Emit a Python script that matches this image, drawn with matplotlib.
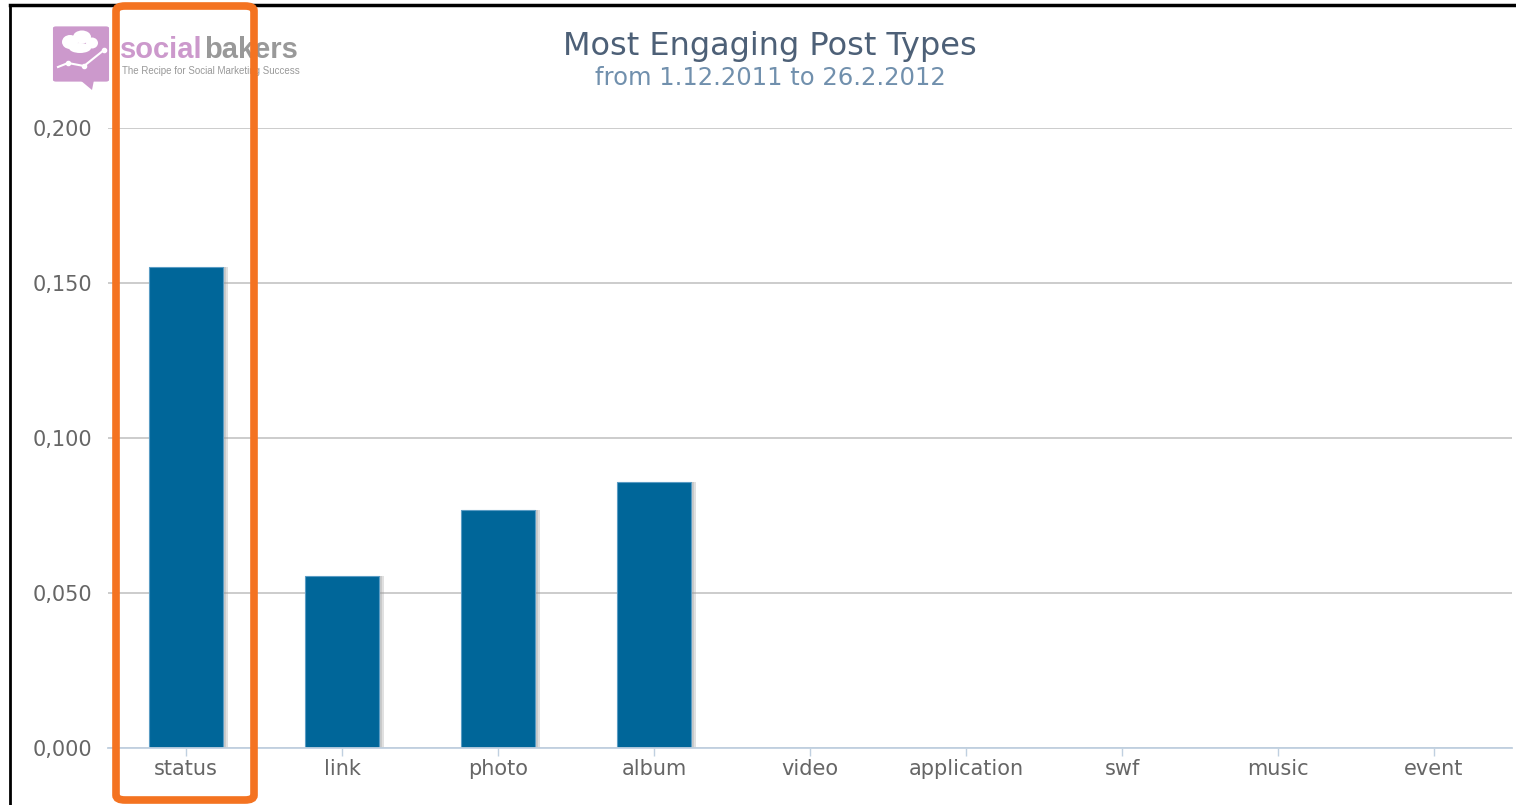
import matplotlib.pyplot as plt
from matplotlib.patches import FancyBboxPatch, Ellipse, Polygon
from matplotlib.lines import Line2D

# engagement per post type
post_types = ['status', 'link', 'photo', 'album', 'video', 'application', 'swf', 'music', 'event']
engagement = [0.155, 0.0555, 0.0768, 0.0858, 0, 0, 0, 0, 0]
y_ticks = [0.0, 0.05, 0.10, 0.15, 0.20]
y_labels = ['0,000', '0,050', '0,100', '0,150', '0,200']

W, H = 1516, 805
fig = plt.figure(figsize=(W / 100, H / 100), dpi=100)
ax = fig.add_axes([108 / W, 1 - 748 / H, (1512 - 108) / W, (748 - 128) / H])

x = list(range(len(post_types)))
# soft shadow behind each bar
ax.bar([i + 0.035 for i in x], engagement, width=0.47, color='#999999', alpha=0.3, zorder=2)
ax.bar([i + 0.02 for i in x], engagement, width=0.47, color='#999999', alpha=0.3, zorder=2)
ax.bar(x, engagement, width=0.47, color='#006699', edgecolor='#5a9cc4', linewidth=0.8, zorder=3)

ax.set_xlim(-0.5, len(post_types) - 0.5)
ax.set_ylim(0, 0.2)
ax.set_yticks(y_ticks)
ax.set_yticklabels(y_labels)
ax.set_xticks(x)
ax.set_xticklabels(post_types)
ax.tick_params(axis='x', colors='#c0d0e0', length=6, width=1, labelcolor='#666666', labelsize=15, pad=2)
ax.tick_params(axis='y', length=0, labelcolor='#666666', labelsize=15, pad=11)
ax.grid(axis='y', color='#c8c8c8', linewidth=1.3, zorder=0)
for s in ['top', 'right', 'left']:
    ax.spines[s].set_visible(False)
ax.spines['bottom'].set_color('#c0d0e0')
ax.spines['bottom'].set_linewidth(1.3)
ax.spines['bottom'].set_zorder(4)

fig.text(770 / W, 1 - 46 / H, 'Most Engaging Post Types', ha='center', va='center',
         fontsize=23, color='#4d6077')
fig.text(770 / W, 1 - 78 / H, 'from 1.12.2011 to 26.2.2012', ha='center', va='center',
         fontsize=17.5, color='#7190ad')

# logo icon
pink = '#cc99cc'
tf = fig.transFigure
fig.patches.append(FancyBboxPatch((56 / W, 1 - 80 / H), 50 / W, 52 / H,
                                  boxstyle='round,pad=0.002', transform=tf,
                                  facecolor=pink, edgecolor='none'))
fig.patches.append(Polygon([(80 / W, 1 - 80 / H), (94 / W, 1 - 80 / H), (92 / W, 1 - 90 / H)],
                           closed=True, transform=tf, facecolor=pink, edgecolor='none'))
for cx, cy, rw, rh in [(70, 42, 16, 14), (82, 37, 18, 13), (92, 43, 12, 11), (80, 48, 22, 10)]:
    fig.patches.append(Ellipse((cx / W, 1 - cy / H), rw / W, rh / H, transform=tf,
                               facecolor='white', edgecolor='none'))
fig.add_artist(Line2D([58 / W, 68 / W, 84 / W, 104 / W], [1 - 67 / H, 1 - 63 / H, 1 - 66 / H, 1 - 50 / H],
                      transform=tf, color='white', linewidth=1.5, marker='o', markersize=3,
                      markevery=[1, 2, 3], markerfacecolor='white', markeredgecolor='white'))

fig.text(203 / W, 1 - 50 / H, 'social', ha='right', va='center', fontsize=21,
         color=pink, fontweight='bold', family='Liberation Sans')
fig.text(204 / W, 1 - 50 / H, 'bakers', ha='left', va='center', fontsize=21,
         color='#999999', fontweight='bold', family='Liberation Sans')
fig.text(122 / W, 1 - 71 / H, 'The Recipe for Social Marketing Success', ha='left', va='center',
         fontsize=7, color='#999999', family='Liberation Sans')

# window frame
fig.add_artist(Line2D([10 / W, 1], [1 - 5 / H, 1 - 5 / H], transform=tf,
                      color='black', linewidth=2.5))
fig.add_artist(Line2D([10 / W, 10 / W], [0, 1 - 5 / H], transform=tf,
                      color='black', linewidth=2))

# highlight box around the first category
fig.patches.append(FancyBboxPatch((116 / W, 5 / H), 138 / W, 794 / H,
                                  boxstyle='round,pad=0,rounding_size=0.006',
                                  transform=tf, facecolor='none',
                                  edgecolor='#f47321', linewidth=5.5, zorder=10))

fig.savefig('out.png', dpi=100)
